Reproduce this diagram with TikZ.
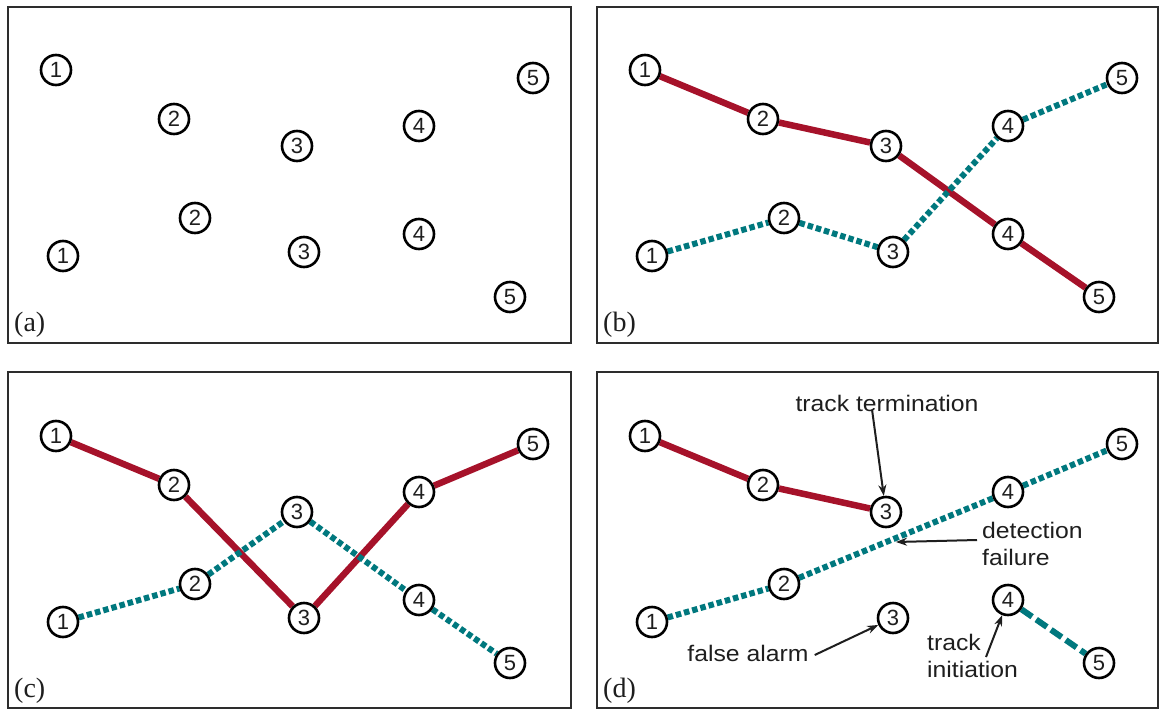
\documentclass[tikz,border=0pt]{standalone}
\usepackage{fontspec}
\setmainfont{Liberation Sans}
\newfontfamily\labserif{Liberation Serif}
\newfontfamily\notefont[FakeStretch=1.1]{Liberation Sans}
\usetikzlibrary{arrows.meta,backgrounds}
\definecolor{trackred}{RGB}{166,18,42}
\definecolor{trackteal}{RGB}{0,120,126}
\definecolor{framecol}{RGB}{45,45,45}
\definecolor{inkcol}{RGB}{30,30,30}
\tikzset{
  meas/.style={circle, draw=black, fill=white, line width=2.6pt, minimum size=30pt, inner sep=0pt, text=inkcol, font=\fontsize{22}{22}\selectfont},
  panel/.style={draw=framecol, line width=2.5pt},
  redtrack/.style={draw=trackred, line width=6.5pt},
  tealtrack/.style={draw=trackteal, line width=6pt, dash pattern=on 5.5pt off 3pt},
  tealdash/.style={draw=trackteal, line width=6pt, dash pattern=on 13pt off 5pt},
  plabel/.style={font=\labserif\fontsize{28}{28}\selectfont, anchor=west, inner sep=0pt, text=inkcol},
  note/.style={font=\notefont\fontsize{22.5}{27}\selectfont, text=inkcol, inner sep=0pt, align=left},
  arr/.style={-{Stealth[length=11pt,width=8pt]}, line width=2pt, draw=inkcol}
}
\newcommand\placemeas[2]{%
  \node[meas] (#1T1) at (56,70) {1};
  \node[meas] (#1T2) at (174,119) {2};
  \node[meas] (#1T3) at (297,146) {3};
  \node[meas] (#1T4) at (419,126) {4};
  \node[meas] (#1T5) at (533,78) {5};
  \node[meas] (#1B1) at (63,256) {1};
  \node[meas] (#1B2) at (195,218) {2};
  \node[meas] (#1B3) at (304,252) {3};
  \node[meas] (#1B4) at (419,234) {4};
  \node[meas] (#1B5) at (510,297) {5};
  \node[plabel] (#1lab) at (14,325) {(#2)};
}
\begin{document}
\begin{tikzpicture}[x=1pt,y=-1pt]
\useasboundingbox (0,0) rectangle (1160,712);
% panel frames
\draw[panel] (8,7) rectangle (571,343);
\draw[panel] (597,7) rectangle (1158,343);
\draw[panel] (8,372) rectangle (571,708);
\draw[panel] (597,372) rectangle (1158,708);
% measurements
\begin{scope}\placemeas{a}{a}\end{scope}
\begin{scope}[shift={(589,0)}]\placemeas{b}{b}\end{scope}
\begin{scope}[shift={(0,366)}]\placemeas{c}{c}\end{scope}
\begin{scope}[shift={(589,366)}]\placemeas{d}{d}\end{scope}
% tracks
\begin{pgfonlayer}{background}
  \draw[redtrack] (bT1) -- (bT2) -- (bT3) -- (bB4) -- (bB5);
  \draw[tealtrack] (bB1) -- (bB2) -- (bB3) -- (bT4) -- (bT5);
  \draw[redtrack] (cT1) -- (cT2) -- (cB3) -- (cT4) -- (cT5);
  \draw[tealtrack] (cB1) -- (cB2) -- (cT3) -- (cB4) -- (cB5);
  \draw[redtrack] (dT1) -- (dT2) -- (dT3);
  \draw[tealtrack] (dB1) -- (dB2) -- (dT4) -- (dT5);
  \draw[tealdash] (dB4) -- (dB5);
\end{pgfonlayer}
% annotations in panel d
\node[note] (tt) at (887,403) {track termination};
\draw[arr] ([xshift=-15pt,yshift=2pt]tt.south) -- (dT3);
\node[note, anchor=west] (df) at (982,544) {detection\\failure};
\coordinate (dfp) at (896,542);
\draw[arr] ([xshift=-5pt,yshift=4pt]df.west) -- (dfp);
\node[note] (fa) at (748,653) {false alarm};
\draw[arr] ([xshift=6pt,yshift=-2pt]fa.east) -- (dB3);
\node[note, anchor=west] (ti) at (927,656) {track\\initiation};
\coordinate (tis) at (986,657);
\draw[arr] (tis) -- (dB4);
\end{tikzpicture}
\end{document}
